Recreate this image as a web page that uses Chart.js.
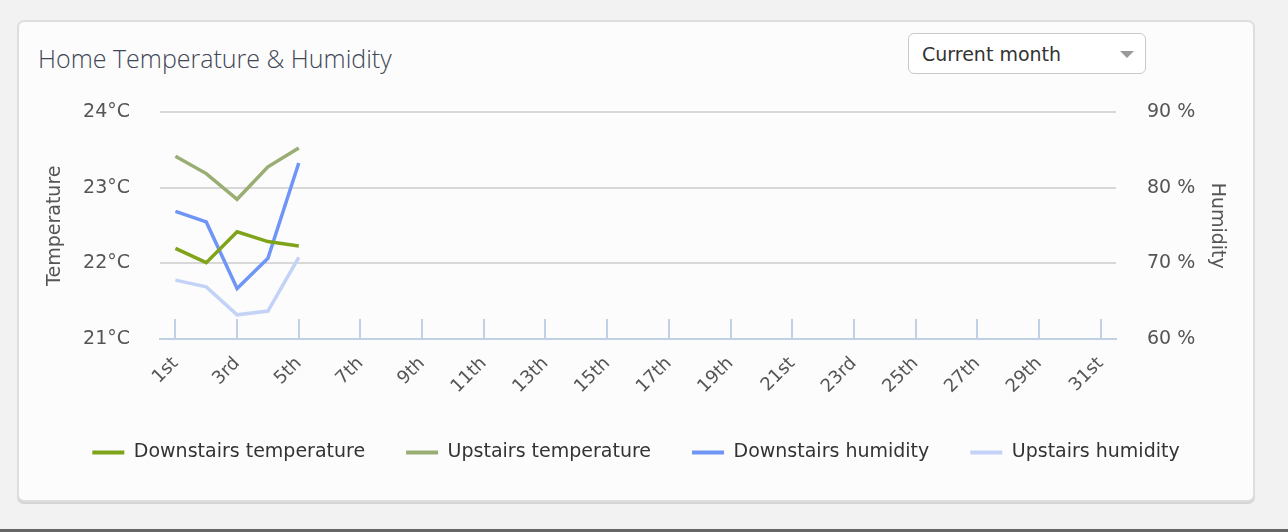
<!DOCTYPE html>
<html>
<head>
<meta charset="utf-8">
<script src="https://cdn.jsdelivr.net/npm/chart.js@4"></script>
<style>
    body { margin: 0; width: 1288px; height: 532px; background: #f2f2f2; position: relative; overflow: hidden; font-family: "DejaVu Sans", sans-serif; }
    .card { position: absolute; left: 17px; top: 20px; width: 1234px; height: 478px; background: #fcfcfc; border: 2px solid #dedede; border-radius: 7px; box-shadow: 0 2px 0 #d4d4d4; }
    .title { position: absolute; left: 38px; top: 41px; font-family: "Open Sans", sans-serif; font-weight: 300; font-size: 25px; color: #3f4756; line-height: 34px; }
    .select { position: absolute; left: 908px; top: 33px; width: 236px; height: 39px; border: 1.5px solid #c9c9c9; border-radius: 6px; background: #fff; }
    .select span { position: absolute; left: 13px; top: 9px; font-size: 19px; color: #333; line-height: 23px; }
    .select i { position: absolute; right: 11px; top: 17px; width: 0; height: 0; border-left: 7px solid transparent; border-right: 7px solid transparent; border-top: 7px solid #9a9a9a; }
    .bar { position: absolute; left: 0; top: 529px; width: 1288px; height: 3px; background: #666; }
    #chart { position: absolute; left: 17px; top: 70px; }
</style>
</head>
<body>
<div class="card"></div>
<div class="title">Home Temperature &amp; Humidity</div>
<div class="select"><span>Current month</span><i></i></div>
<div class="bar"></div>
<canvas id="chart" width="1238" height="402"></canvas>
<script>
let days = ['1st', '2nd', '3rd', '4th', '5th', '6th', '7th', '8th', '9th', '10th',
    '11th', '12th', '13th', '14th', '15th', '16th', '17th', '18th', '19th', '20th',
    '21st', '22nd', '23rd', '24th', '25th', '26th', '27th', '28th', '29th', '30th', '31st'];
let downstairsTemp = [22.20, 22.01, 22.42, 22.29, 22.23];
let upstairsTemp = [23.42, 23.19, 22.85, 23.28, 23.53];
let downstairsHum = [76.9, 75.5, 66.7, 70.7, 83.3];
let upstairsHum = [67.8, 66.9, 63.2, 63.7, 70.8];
let tempTicks = [21, 22, 23, 24];
let humTicks = [60, 70, 80, 90];

let tickColor = '#c0d1e5';
let labelColor = '#555';

function line(label, values, color, axis) {
    return {
        label: label,
        data: values,
        borderColor: color,
        backgroundColor: color,
        borderWidth: 3.5,
        pointRadius: 0,
        tension: 0,
        fill: false,
        yAxisID: axis
    };
}

new Chart(document.getElementById('chart'), {
    type: 'line',
    data: {
        labels: days,
        datasets: [
            line('Downstairs temperature', downstairsTemp, '#7fa41a', 'temp'),
            line('Upstairs temperature', upstairsTemp, '#9aad72', 'temp'),
            line('Downstairs humidity', downstairsHum, '#6f96f6', 'hum'),
            line('Upstairs humidity', upstairsHum, '#c3d2f7', 'hum')
        ]
    },
    options: {
        responsive: false,
        animation: false,
        layout: { padding: 0 },
        plugins: {
            tooltip: { enabled: false },
            legend: {
                position: 'bottom',
                labels: {
                    boxWidth: 32,
                    boxHeight: 4,
                    padding: 41,
                    color: '#333',
                    font: { family: 'DejaVu Sans', size: 19 },
                    generateLabels: function (chart) {
                        let items = Chart.defaults.plugins.legend.labels.generateLabels(chart);
                        return items.map(function (it) {
                            it.lineWidth = 0;
                            it.fillStyle = it.strokeStyle;
                            return it;
                        });
                    }
                }
            }
        },
        scales: {
            x: {
                offset: true,
                grid: {
                    offset: false,
                    drawOnChartArea: false,
                    drawTicks: true,
                    tickLength: -20,
                    lineWidth: 2,
                    tickColor: tickColor
                },
                border: { color: tickColor, width: 2 },
                ticks: {
                    autoSkip: false,
                    maxRotation: 45,
                    minRotation: 45,
                    padding: 34,
                    color: labelColor,
                    font: { family: 'DejaVu Sans', size: 18 },
                    // every other day gets a label and a tick mark
                    callback: function (value, index) {
                        return index % 2 ? null : days[index];
                    }
                },
                afterFit: function (scale) { scale.height = 63; }
            },
            temp: {
                position: 'left',
                min: 21,
                max: 24,
                afterBuildTicks: function (scale) {
                    scale.ticks = tempTicks.map(v => ({ value: v }));
                },
                grid: { color: '#d8d8d8', lineWidth: 2, drawTicks: false },
                border: { display: false },
                ticks: {
                    padding: 30,
                    color: labelColor,
                    font: { family: 'DejaVu Sans', size: 19 },
                    callback: (v) => v + '°C'
                },
                title: {
                    display: true,
                    text: 'Temperature',
                    color: labelColor,
                    padding: { top: 27, bottom: 0 },
                    font: { family: 'DejaVu Sans', size: 19 }
                },
                afterFit: function (scale) { scale.width = 143; }
            },
            hum: {
                position: 'right',
                min: 60,
                max: 90,
                afterBuildTicks: function (scale) {
                    scale.ticks = humTicks.map(v => ({ value: v }));
                },
                grid: { drawOnChartArea: false, drawTicks: false },
                border: { display: false },
                ticks: {
                    padding: 31,
                    color: labelColor,
                    font: { family: 'DejaVu Sans', size: 19 },
                    callback: (v) => v + ' %'
                },
                title: {
                    display: true,
                    text: 'Humidity',
                    color: labelColor,
                    padding: { top: 27, bottom: 0 },
                    font: { family: 'DejaVu Sans', size: 19 }
                },
                afterFit: function (scale) { scale.width = 139; }
            }
        }
    }
});
</script>
</body>
</html>
